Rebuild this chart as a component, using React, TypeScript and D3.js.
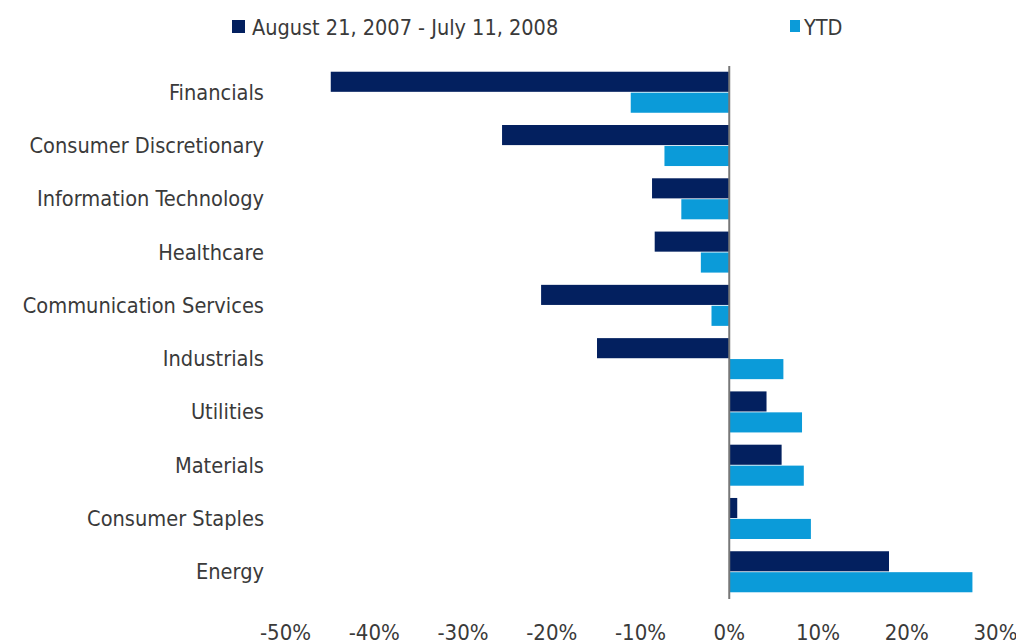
import React from 'react';
import * as d3 from 'd3';

const sectors = [
  'Financials',
  'Consumer Discretionary',
  'Information Technology',
  'Healthcare',
  'Communication Services',
  'Industrials',
  'Utilities',
  'Materials',
  'Consumer Staples',
  'Energy',
];

// percent returns
const crisisValues = [-44.9, -25.6, -8.7, -8.4, -21.2, -14.9, 4.2, 5.9, 0.9, 18.0];
const ytdValues = [-11.1, -7.3, -5.4, -3.2, -2.0, 6.1, 8.2, 8.4, 9.2, 27.4];

const seriesNames = ['August 21, 2007 - July 11, 2008', 'YTD'];
const tickValues = [-50, -40, -30, -20, -10, 0, 10, 20, 30];

const DARK = '#03205f';
const LIGHT = '#0b9bd9';
const TEXT = '#3a3a3a';
const FONT = '"Liberation Sans Narrow", "DejaVu Sans Condensed", "Arial Narrow", sans-serif';

const W = 1016;
const H = 644;

const App = () => {
  const x = d3.scaleLinear().domain([-50, 30]).range([285.5, 995.5]);

  const y = d3.scaleBand<string>()
    .domain(sectors)
    .range([65.6, 598.4])
    .paddingInner(0.23)
    .paddingOuter(0.115);

  const inner = d3.scaleBand<string>()
    .domain(['crisis', 'ytd'])
    .range([0, y.bandwidth()])
    .paddingInner(0.04);

  const x0 = x(0);

  return (
    <svg width={W} height={H} style={{ position: 'absolute', left: 0, top: 0, background: '#fff' }}>
      {/* legend */}
      <g fontFamily={FONT} fontSize={21.5} fill={TEXT}>
        <rect x={232} y={20} width={13} height={13} fill={DARK} />
        <text x={252} y={35}>{seriesNames[0]}</text>
        <rect x={790} y={20} width={10} height={12} fill={LIGHT} />
        <text x={804} y={35}>{seriesNames[1]}</text>
      </g>

      {/* bars */}
      {sectors.map((s, i) => {
        const top = y(s)!;
        const a = crisisValues[i];
        const b = ytdValues[i];
        return (
          <g key={s}>
            <rect
              x={Math.min(x(a), x0)}
              y={top + inner('crisis')!}
              width={Math.abs(x(a) - x0)}
              height={inner.bandwidth()}
              fill={DARK}
            />
            <rect
              x={Math.min(x(b), x0)}
              y={top + inner('ytd')!}
              width={Math.abs(x(b) - x0)}
              height={inner.bandwidth()}
              fill={LIGHT}
            />
            <text
              x={264}
              y={top + y.bandwidth() / 2}
              dy="0.35em"
              textAnchor="end"
              fontFamily={FONT}
              fontSize={21.6}
              fill={TEXT}
            >
              {s}
            </text>
          </g>
        );
      })}

      {/* zero line */}
      <line x1={x0} x2={x0} y1={66} y2={599} stroke="#777" strokeWidth={2} />

      {/* x tick labels */}
      <g fontFamily={FONT} fontSize={22} fill={TEXT} textAnchor="middle">
        {tickValues.map(t => (
          <text key={t} x={x(t)} y={640}>{`${t}%`}</text>
        ))}
      </g>
    </svg>
  );
};

export default App;
